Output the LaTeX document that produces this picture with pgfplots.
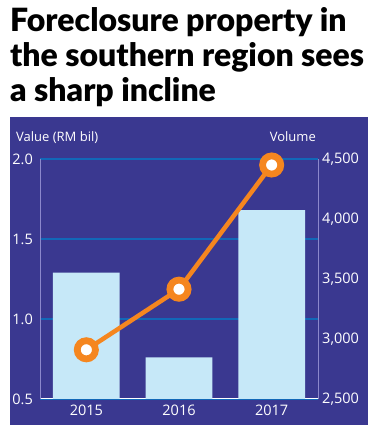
\documentclass[border=0pt]{standalone}
\usepackage{fontspec}
\usepackage{pgfplots}
\pgfplotsset{compat=1.18}
\setmainfont{Open Sans}
\newfontfamily\titlefont{Lato Black}
\definecolor{panel}{HTML}{3A3890}
\definecolor{gridblue}{HTML}{1268B8}
\definecolor{lav}{HTML}{8C88CC}
\definecolor{barblue}{HTML}{C6E8F8}
\definecolor{orng}{HTML}{F5861F}
\begin{document}
\begin{tikzpicture}[x=1pt,y=1pt]
\fill[white] (0,0) rectangle (379,430);
\fill[panel] (10,5) rectangle (368,313);
\begin{scope}[every node/.style={anchor=base west, inner sep=0pt, font=\titlefont\fontsize{32}{32}\selectfont}]
\node at (10,398) {Foreclosure property in};
\node at (10,363) {the southern region sees};
\node at (10,328) {a sharp incline};
\end{scope}
\node[anchor=base west, inner sep=0pt, text=white, font=\fontsize{13}{13}\selectfont] at (16,288) {Value (RM bil)};
\node[anchor=base east, inner sep=0pt, text=white, font=\fontsize{13}{13}\selectfont] at (316,288) {Volume};
\begin{axis}[
  at={(40pt,31pt)}, anchor=south west,
  scale only axis, width=278pt, height=240pt,
  xmin=-0.5, xmax=2.5, ymin=0.5, ymax=2.0,
  axis x line*=bottom, axis y line*=left,
  x axis line style={white, line width=1pt, -},
  y axis line style={lav, line width=1pt, -},
  xtick={0,1,2}, xticklabels={2015,2016,2017},
  ytick={0.5,1,1.5,2}, yticklabels={0.5,1.0,1.5,2.0},
  major tick length=0pt,
  ymajorgrids, grid style={gridblue, line width=1.2pt},
  tick label style={text=white, font=\fontsize{14.5}{14.5}\selectfont, inner sep=0pt},
  yticklabel style={anchor=east, xshift=-7pt},
  xticklabel style={anchor=north, yshift=-6pt},
]
\addplot[ybar, bar width=0.72, fill=barblue, draw=none] coordinates {(0,1.29) (1,0.76) (2,1.68)};
\end{axis}
\begin{axis}[
  at={(40pt,31pt)}, anchor=south west,
  scale only axis, width=278pt, height=240pt,
  xmin=-0.5, xmax=2.5, ymin=2500, ymax=4500,
  axis x line=none, axis y line*=right,
  y axis line style={lav, line width=1pt, -},
  ytick={2500,3000,3500,4000,4500},
  yticklabels={{2,500},{3,000},{3,500},{4,000},{4,500}},
  major tick length=0pt,
  tick label style={text=white, font=\fontsize{14.5}{14.5}\selectfont, inner sep=0pt},
  yticklabel style={anchor=west, xshift=4pt},
  clip=false,
]
\addplot[orng, line width=4.5pt, mark=*, mark size=9.1pt, mark options={fill=white, draw=orng, line width=6.8pt}] coordinates {(0,2910) (1,3415) (2,4450)};
\end{axis}
\end{tikzpicture}
\end{document}
